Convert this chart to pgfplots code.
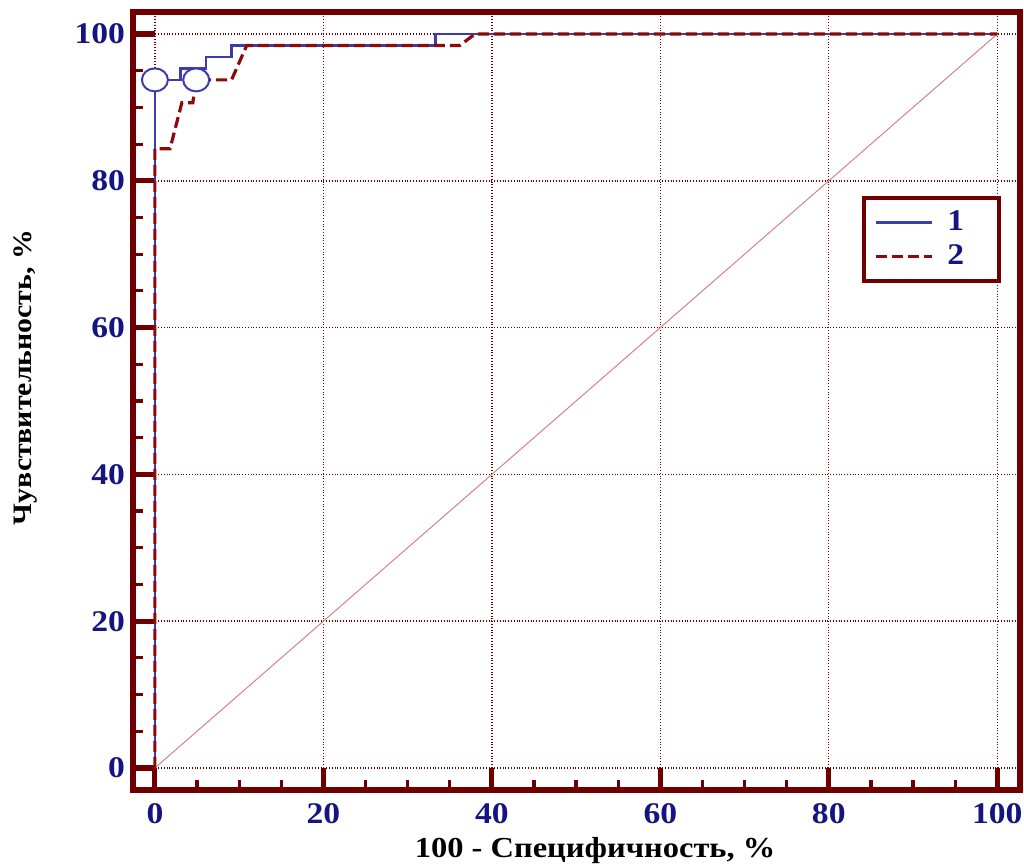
\documentclass[border=0pt]{standalone}
\usepackage{fontspec}
\setmainfont{Liberation Serif}
\newfontfamily\widefont[FakeStretch=1.12]{Liberation Serif}
\usepackage{pgfplots}
\pgfplotsset{compat=1.18}
\usetikzlibrary{calc}
\definecolor{axred}{RGB}{112,0,0}
\definecolor{rocblue}{RGB}{60,60,175}
\definecolor{rocred}{RGB}{140,10,10}
\definecolor{labnavy}{RGB}{20,20,130}
\definecolor{diagred}{RGB}{215,130,130}

\begin{document}
\begin{tikzpicture}
  \begin{axis}[
      scale only axis,
      width=443.5pt, height=389pt,
      xmin=-2.6, xmax=102.7,
      ymin=-3.0, ymax=103,
      xtick={0,20,...,100},
      ytick={0,20,...,100},
      minor tick num=3,
      tick pos=left,
      tick align=inside,
      major tick length=11pt,
      minor tick length=5pt,
      every major tick/.append style={line width=2.6pt, color=axred},
      every minor tick/.append style={line width=1.6pt, color=axred},
      axis line style={line width=2.8pt, color=axred},
      grid=major,
      major grid style={densely dotted, color=axred, line width=0.7pt},
      /pgf/number format/assume math mode=true,
      ticklabel style={font=\widefont\fontsize{15}{17}\selectfont\bfseries, text=labnavy},
      yticklabel style={xshift=-0.5pt},
      xticklabel style={yshift=-3pt},
      xlabel={100 - Специфичность, \%},
      ylabel={Чувствительность, \%},
      every axis x label/.style={at={(axis description cs:0.521,-0.078)}, anchor=center,
          font=\widefont\fontsize{14.5}{16}\selectfont\bfseries, text=black},
      every axis y label/.style={at={(axis description cs:-0.1206,0.530)}, rotate=90, anchor=center,
          font=\widefont\fontsize{13.3}{16}\selectfont\bfseries, text=black},
      legend image code/.code={\draw[#1] (0cm,0cm) -- (28pt,0cm);},
      legend style={
          at={(0.822,0.7635)}, anchor=north west,
          draw=axred, line width=2pt,
          font=\widefont\fontsize{15}{17}\selectfont\bfseries,
          text=labnavy,
          inner xsep=5pt, inner ysep=4.5pt,
          row sep=1.5pt,
          legend cell align=left
      },
  ]

  % reference diagonal
  \addplot[color=diagred, line width=0.5pt, forget plot]
    coordinates {(0,0) (100,100)};

  % curve 1
  \addplot[color=rocblue, line width=1.3pt] coordinates {
      (0,0) (0,93.75) (3.03,93.75) (3.03,95.31) (6.06,95.31)
      (6.06,96.88) (9.09,96.88) (9.09,98.44) (33.33,98.44)
      (33.33,100) (100,100)
  };
  \addlegendentry{\makebox[24pt][l]{\hspace{5pt}1}}

  % curve 2
  \addplot[color=rocred, line width=1.6pt, dash pattern=on 5.5pt off 2.5pt] coordinates {
      (0,0) (0,84.38) (1.8,84.38) (3.2,90.63) (4.5,90.63)
      (4.9,93.75) (9.1,93.75) (10.9,98.44) (36.2,98.44)
      (38,100) (100,100)
  };
  \addlegendentry{\makebox[24pt][l]{\hspace{5pt}2}}

  % cut-off points
  \addplot[only marks, mark=*, mark size=5.75pt,
           mark options={xscale=1.13, fill=white, draw=rocblue, line width=1pt},
           forget plot]
    coordinates {(0,93.75) (4.9,93.75)};

  \end{axis}
  \pgfresetboundingbox
  \path ($(current axis.south west)+(-66.5pt,-38.5pt)$)
        rectangle ++(512pt,433.5pt);
\end{tikzpicture}
\end{document}
